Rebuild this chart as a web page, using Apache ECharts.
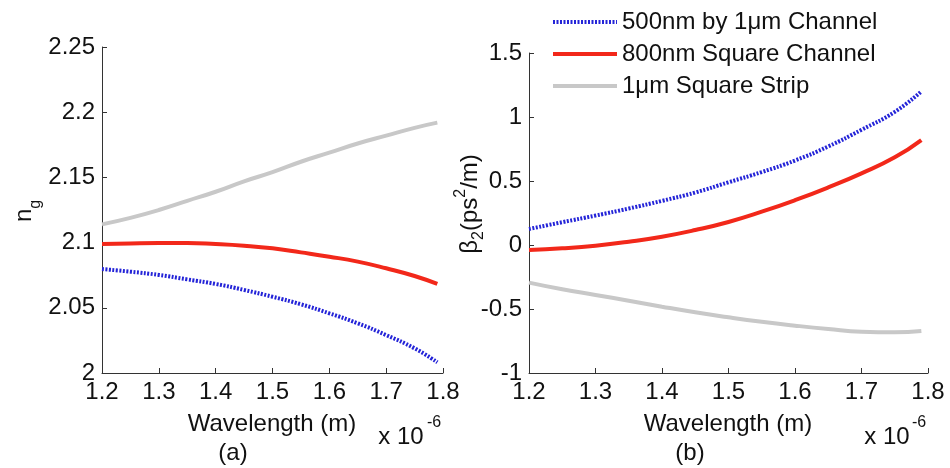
<!DOCTYPE html>
<html>
<head>
<meta charset="utf-8">
<script src="https://cdn.jsdelivr.net/npm/echarts@6/dist/echarts.min.js"></script>
<style>
  html, body { margin: 0; padding: 0; background: #fff; }
  #chart { width: 950px; height: 468px; }
</style>
</head>
<body>
<div id="chart"></div>
<script>
// wavelength (x 10^-6 m)
const wavelength = [1.2, 1.25, 1.3, 1.35, 1.4, 1.45, 1.5, 1.55, 1.6, 1.65, 1.7, 1.75, 1.79]
const seriesNames = ['500nm by 1μm Channel', '800nm Square Channel', '1μm Square Strip']

// (a) group index n_g
const ngChannel500 = [2.0797, 2.0777, 2.0752, 2.0718, 2.0683, 2.0637, 2.0585, 2.0527, 2.0458, 2.0381, 2.0291, 2.0189, 2.0082]
const ngChannel800 = [2.0989, 2.0994, 2.0997, 2.0997, 2.0989, 2.0976, 2.0956, 2.0925, 2.0892, 2.0854, 2.0803, 2.0744, 2.0683]
const ngStrip1um = [2.114, 2.119, 2.125, 2.132, 2.139, 2.147, 2.154, 2.162, 2.169, 2.176, 2.182, 2.188, 2.192]

// (b) beta2 (ps^2/m)
const b2Channel500 = [0.125, 0.178, 0.23, 0.285, 0.345, 0.41, 0.49, 0.57, 0.66, 0.77, 0.90, 1.04, 1.20]
const b2Channel800 = [-0.04, -0.026, -0.005, 0.026, 0.065, 0.117, 0.18, 0.26, 0.35, 0.45, 0.56, 0.685, 0.82]
const b2Strip1um = [-0.294, -0.346, -0.39, -0.435, -0.482, -0.526, -0.565, -0.60, -0.63, -0.656, -0.677, -0.682, -0.672]

const FONT = 'Liberation Sans, Arial, sans-serif'
const FS = 24
const colors = ['#2424d8', '#f2281a', '#c8c8c8']
const lineTypes = [[2, 1.5], 'solid', 'solid']

const pairs = ys => wavelength.map((x, i) => [x, ys[i]])

const makeSeries = (data, idx) => data.map((ys, i) => ({
  name: seriesNames[i],
  type: 'line',
  xAxisIndex: idx,
  yAxisIndex: idx,
  smooth: true,
  symbol: 'none',
  data: pairs(ys),
  lineStyle: { color: colors[i], width: 4, type: lineTypes[i] },
  itemStyle: { color: colors[i] },
  z: 3 - i
}))

const axisCommon = {
  axisLine: { show: true, onZero: false, lineStyle: { color: '#333', width: 1 } },
  axisTick: { show: true, inside: true, length: 5, lineStyle: { color: '#333' } },
  splitLine: { show: false },
  axisLabel: { color: '#111', fontSize: FS, fontFamily: FONT, margin: 7 }
}

const chart = echarts.init(document.getElementById('chart'))

const textEl = (x, y, text, extra) => ({
  type: 'text', x, y,
  style: Object.assign({ text, fill: '#111', font: FS + 'px ' + FONT, align: 'center', verticalAlign: 'middle' }, extra || {})
})

chart.setOption({
  animation: false,
  backgroundColor: '#fff',
  grid: [
    { left: 102, top: 47, width: 341, height: 326 },
    { left: 529, top: 53, width: 399, height: 320 }
  ],
  xAxis: [0, 1].map(i => Object.assign({}, axisCommon, {
    type: 'value', gridIndex: i, min: 1.2, max: 1.8, interval: 0.1
  })),
  yAxis: [
    Object.assign({}, axisCommon, { type: 'value', gridIndex: 0, min: 2, max: 2.25, interval: 0.05 }),
    Object.assign({}, axisCommon, { type: 'value', gridIndex: 1, min: -1, max: 1.5, interval: 0.5 })
  ],
  legend: {
    orient: 'vertical',
    left: 546,
    top: 5,
    itemWidth: 64,
    itemHeight: 14,
    itemGap: 8,
    itemStyle: { opacity: 0 },
    lineStyle: { width: 4 },
    data: seriesNames,
    textStyle: { color: '#111', fontSize: FS, fontFamily: FONT }
  },
  series: [
    ...makeSeries([ngChannel500, ngChannel800, ngStrip1um], 0),
    ...makeSeries([b2Channel500, b2Channel800, b2Strip1um], 1)
  ],
  graphic: [
    textEl(272, 424, 'Wavelength (m)'),
    textEl(233, 453, '(a)'),
    textEl(728, 424, 'Wavelength (m)'),
    textEl(690, 453, '(b)'),
    textEl(401, 437, 'x 10'),
    textEl(434, 423, '-6', { font: '16px ' + FONT }),
    textEl(887, 437, 'x 10'),
    textEl(919, 423, '-6', { font: '16px ' + FONT }),
    {
      type: 'text', x: 28, y: 211, rotation: Math.PI / 2,
      style: {
        text: '{n|n}{s|g}',
        align: 'center', verticalAlign: 'middle',
        rich: {
          n: { fontSize: FS, fontFamily: FONT, fill: '#111', verticalAlign: 'top', lineHeight: 32 },
          s: { fontSize: 16, fontFamily: FONT, fill: '#111', verticalAlign: 'bottom', lineHeight: 32 }
        }
      }
    },
    {
      type: 'text', x: 470, y: 204, rotation: Math.PI / 2,
      style: {
        text: '{n|β}{s|2}{n|(ps}{p|2}{n|/m)}',
        align: 'center', verticalAlign: 'middle',
        rich: {
          n: { fontSize: FS, fontFamily: FONT, fill: '#111', verticalAlign: 'middle', lineHeight: 34 },
          s: { fontSize: 16, fontFamily: FONT, fill: '#111', verticalAlign: 'bottom', lineHeight: 34 },
          p: { fontSize: 16, fontFamily: FONT, fill: '#111', verticalAlign: 'top', lineHeight: 34 }
        }
      }
    }
  ]
})
</script>
</body>
</html>
